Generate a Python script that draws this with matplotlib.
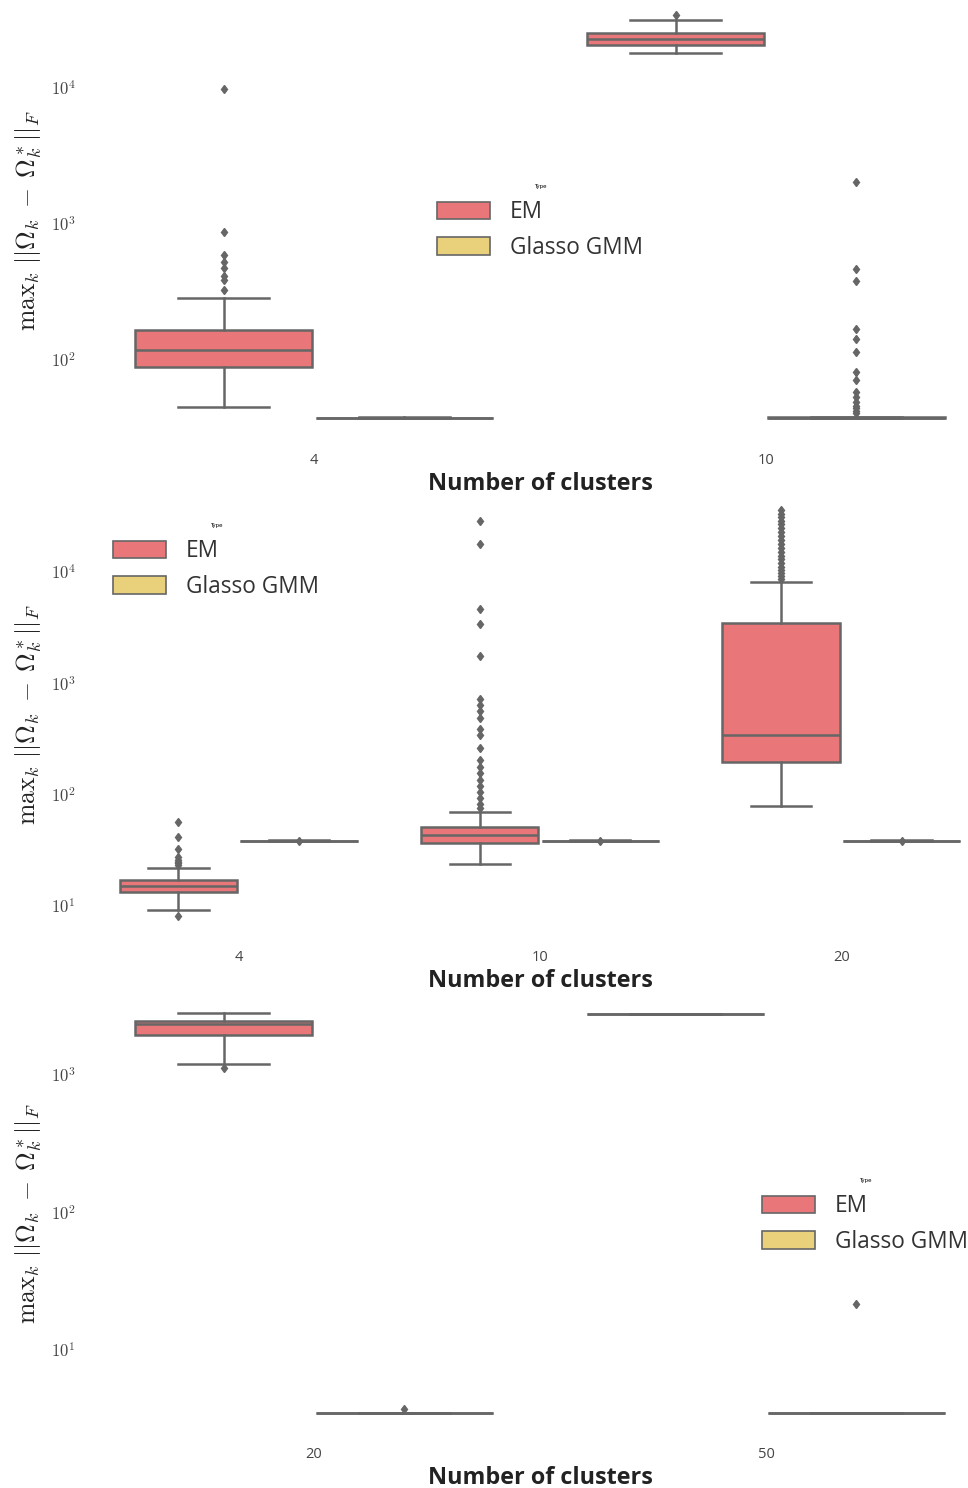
import numpy as np
import matplotlib
matplotlib.use("Agg")
import matplotlib.pyplot as plt
from matplotlib.patches import Patch
from matplotlib.ticker import FuncFormatter, LogLocator, NullLocator

# data: (whislo, q1, median, q3, whishi) per cluster count
P1_CLUSTERS = ["4", "10"]
P1_EM_BOX = [(45, 89, 118, 166, 286), (18100, 20700, 22900, 25400, 31600)]
P1_EM_FLIERS = [[9800, 873, 590, 525, 475, 415, 387, 327], [34400]]
P1_GL_BOX = [(37.3, 37.5, 37.6, 37.7, 37.9), (37.5, 37.6, 37.7, 37.8, 37.9)]
P1_GL_FLIERS = [[], [2050, 467, 381, 169, 143, 115, 81, 71, 58, 53, 49, 46, 44, 42, 41]]

P2_CLUSTERS = ["4", "10", "20"]
P2_EM_BOX = [(9.2, 13.4, 15.2, 17.2, 22), (24, 37, 43.6, 51.5, 70), (80, 198, 344, 3470, 8090)]
P2_EM_FLIERS = [[8.1, 57, 42, 32.6, 27.5, 26, 25, 24.5, 23.5],
                [28970, 17870, 4660, 3435, 1762, 719, 640, 569, 486, 387, 344, 261,
                 205, 179, 157, 136, 120, 106, 93.5, 82.5, 76],
                [8600, 9200, 9800, 10500, 11200, 12000, 13000, 14000, 15000, 16500,
                 18000, 19500, 21000, 23000, 25000, 27000, 29000, 31000, 33000, 36000]]
P2_GL_BOX = [(38.2, 38.4, 38.5, 38.6, 38.8), (38.2, 38.4, 38.5, 38.6, 38.8), (38.2, 38.4, 38.5, 38.6, 38.8)]
P2_GL_FLIERS = [[38.0], [38.0], [38.0]]

P3_CLUSTERS = ["20", "50"]
P3_EM_BOX = [(1202, 1954, 2338, 2484, 2838), (2770, 2775, 2780, 2785, 2790)]
P3_EM_FLIERS = [[1130], []]
P3_GL_BOX = [(3.46, 3.47, 3.48, 3.49, 3.50), (3.46, 3.47, 3.48, 3.49, 3.50)]
P3_GL_FLIERS = [[3.75], [21.6]]

EM_COLOR = "#E9777A"
GL_COLOR = "#E9D07A"
LINE = "#666666"

W, H = 968, 1488
plt.rcParams["mathtext.fontset"] = "cm"


def make_stats(boxes, fliers):
    return [dict(whislo=b[0], q1=b[1], med=b[2], q3=b[3], whishi=b[4], fliers=f)
            for b, f in zip(boxes, fliers)]


def draw_panel(ax, clusters, em_box, em_fl, gl_box, gl_fl, ylim, leg_xy):
    x = np.arange(len(clusters))
    ax.set_yscale("log")
    for boxes, fl, off, col in [(em_box, em_fl, -0.2, EM_COLOR), (gl_box, gl_fl, 0.2, GL_COLOR)]:
        ax.bxp(make_stats(boxes, fl), positions=x + off, widths=0.39, capwidths=0.2,
               patch_artist=True, manage_ticks=False,
               boxprops=dict(facecolor=col, edgecolor=LINE, linewidth=1.8),
               medianprops=dict(color=LINE, linewidth=1.8),
               whiskerprops=dict(color=LINE, linewidth=1.8),
               capprops=dict(color=LINE, linewidth=1.8),
               flierprops=dict(marker="d", markerfacecolor=LINE, markeredgecolor=LINE,
                               markersize=4.5))
    ax.set_xlim(-0.5, len(clusters) - 0.5)
    ax.set_ylim(*ylim)
    ax.set_xticks(x, clusters, fontfamily="Open Sans", fontsize=10.5, color="#444444")
    ax.yaxis.set_major_locator(LogLocator(base=10))
    ax.yaxis.set_minor_locator(NullLocator())
    ax.yaxis.set_major_formatter(FuncFormatter(lambda v, p: r"$10^{%d}$" % round(np.log10(v))))
    ax.tick_params(axis="y", labelsize=12, labelcolor="#444444", length=0, pad=9)
    ax.tick_params(axis="x", length=0, pad=9)
    for s in ax.spines.values():
        s.set_visible(False)
    ax.set_xlabel("Number of clusters", fontfamily="Open Sans", fontweight="bold",
                  fontsize=16.8, color="#222222", labelpad=3)
    ax.set_ylabel(r"$\mathrm{max}_k\ ||\Omega_k\;-\;\Omega^*_k||_F$", fontsize=18.5,
                  color="#222222")
    ax.yaxis.set_label_coords(-0.049, 0.5)
    handles = [Patch(facecolor=EM_COLOR, edgecolor=LINE, linewidth=1.2, label="EM"),
               Patch(facecolor=GL_COLOR, edgecolor=LINE, linewidth=1.2, label="Glasso GMM")]
    leg = ax.legend(handles=handles, title="Type", loc="center", frameon=False,
                    bbox_to_anchor=(leg_xy[0] / W, 1 - leg_xy[1] / H),
                    bbox_transform=ax.figure.transFigure,
                    prop=dict(family="Open Sans", size=16.3), title_fontsize=4,
                    handlelength=2.35, handleheight=0.8, labelspacing=0.5,
                    handletextpad=0.85)
    for t in leg.get_texts():
        t.set_color("#333333")


fig = plt.figure(figsize=(W / 100, H / 100), dpi=100)
left, width = 88 / W, 904 / W
ax1 = fig.add_axes([left, 1 - 440 / H, width, 440 / H])
ax2 = fig.add_axes([left, 1 - 937 / H, width, 445 / H])
ax3 = fig.add_axes([left, 1 - 1434 / H, width, 442 / H])

draw_panel(ax1, P1_CLUSTERS, P1_EM_BOX, P1_EM_FLIERS, P1_GL_BOX, P1_GL_FLIERS,
           (25.8, 44400), (540, 222))
draw_panel(ax2, P2_CLUSTERS, P2_EM_BOX, P2_EM_FLIERS, P2_GL_BOX, P2_GL_FLIERS,
           (5.27, 52400), (216, 561))
draw_panel(ax3, P3_CLUSTERS, P3_EM_BOX, P3_EM_FLIERS, P3_GL_BOX, P3_GL_FLIERS,
           (2.45, 4017), (865, 1216))

fig.savefig("out.png", dpi=100, facecolor="white")
